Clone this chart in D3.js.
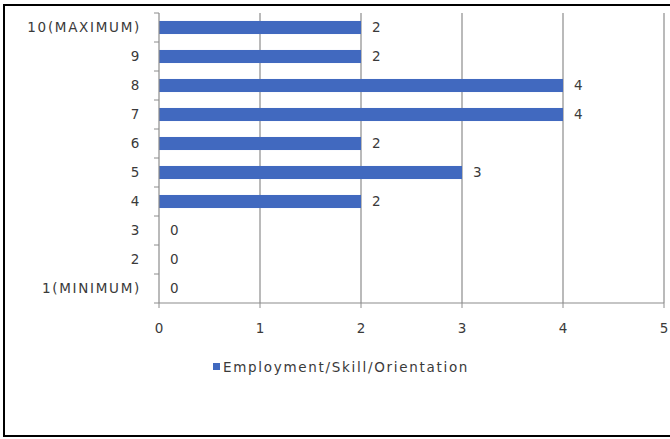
<!DOCTYPE html>
<html><head><meta charset="utf-8">
<script src="https://cdn.jsdelivr.net/npm/d3@7"></script>
<style>body{margin:0;background:#fff}text{font-family:"DejaVu Sans",sans-serif;fill:#3a3a3a}</style>
</head><body><svg id="c" width="670" height="439"></svg>
<script>
const categories = ["10(MAXIMUM)","9","8","7","6","5","4","3","2","1(MINIMUM)"];
const values = [2,2,4,4,2,3,2,0,0,0];
const xTicks = [0,1,2,3,4,5];
const seriesName = "Employment/Skill/Orientation";

const svg = d3.select("#c");
const W=670,H=439;
const FS = 13.5, LS = 1.7;
// border
svg.append("rect").attr("x",4).attr("y",5).attr("width",W+10).attr("height",431)
  .attr("fill","none").attr("stroke","#000").attr("stroke-width",2);

const x = d3.scaleLinear().domain([0,5]).range([159,664]);
const y = d3.scaleBand().domain(categories).range([13,303]).paddingInner(0.55).paddingOuter(0.275);
const band = d3.scaleBand().domain(categories).range([13,303]);

// gridlines
svg.append("g").selectAll("line").data(xTicks.slice(1)).join("line")
  .attr("x1",d=>x(d)).attr("x2",d=>x(d)).attr("y1",13).attr("y2",303)
  .attr("stroke","#8c8c8c").attr("stroke-width",1.2);

// bars
svg.append("g").selectAll("rect").data(values).join("rect")
  .attr("x",x(0)).attr("y",(d,i)=>y(categories[i])).attr("height",y.bandwidth())
  .attr("width",d=>x(d)-x(0)).attr("fill","#4169BF");

// value labels
svg.append("g").selectAll("text").data(values).join("text")
  .attr("x",d=>x(d)+11).attr("y",(d,i)=>y(categories[i])+y.bandwidth()/2)
  .attr("dy","0.35em").attr("font-size",FS).text(d=>d);

// y axis
const ya = svg.append("g").attr("transform",`translate(${x(0)},0)`);
ya.append("line").attr("x1",0).attr("x2",0).attr("y1",13).attr("y2",303).attr("stroke","#8c8c8c").attr("stroke-width",1.2);
const yTickPos = d3.range(categories.length+1).map(i=>13+i*band.step());
ya.selectAll(".t").data(yTickPos).join("line").attr("x1",-5).attr("x2",0).attr("y1",d=>d).attr("y2",d=>d).attr("stroke","#8c8c8c");
ya.selectAll("text").data(categories).join("text").attr("x",-18).attr("y",d=>band(d)+band.bandwidth()/2)
  .attr("dy","0.35em").attr("text-anchor","end").attr("font-size",FS).attr("letter-spacing",LS).text(d=>d);

// x axis
const xa = svg.append("g").attr("transform","translate(0,303)");
xa.append("line").attr("x1",x(0)).attr("x2",x(5)).attr("stroke","#8c8c8c").attr("stroke-width",1.2);
xa.selectAll(".t").data(xTicks).join("line").attr("x1",d=>x(d)).attr("x2",d=>x(d)).attr("y1",0).attr("y2",5).attr("stroke","#8c8c8c");
xa.selectAll("text").data(xTicks).join("text").attr("x",d=>x(d)).attr("y",25).attr("dy","0.35em")
  .attr("text-anchor","middle").attr("font-size",FS).text(d=>d);

// legend
const lg = svg.append("g").attr("transform","translate(213,367)");
lg.append("rect").attr("x",0).attr("y",-4).attr("width",7).attr("height",7).attr("fill","#4169BF");
lg.append("text").attr("x",10).attr("y",0).attr("dy","0.35em").attr("font-size",FS).attr("letter-spacing",LS).text(seriesName);
</script></body></html>
